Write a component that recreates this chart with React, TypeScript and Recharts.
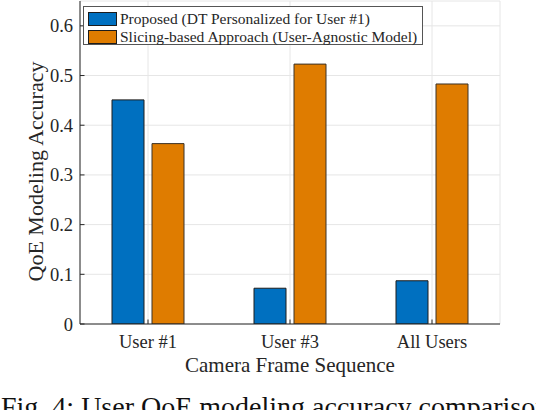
import React from 'react';
import { BarChart, Bar, XAxis, YAxis, CartesianGrid } from 'recharts';

const categories = ['User #1', 'User #3', 'All Users'];
const proposedValues = [0.451, 0.072, 0.087];
const slicingValues = [0.363, 0.523, 0.483];
const yTicks = [0, 0.1, 0.2, 0.3, 0.4, 0.5, 0.6];
const yTickLabels = ['0', '0.1', '0.2', '0.3', '0.4', '0.5', '0.6'];
const seriesNames = [
  'Proposed (DT Personalized for User #1)',
  'Slicing-based Approach (User-Agnostic Model)',
];
const seriesColors = ['#0070C0', '#DF7C00'];
const xAxisTitle = 'Camera Frame Sequence';
const yAxisTitle = 'QoE Modeling Accuracy';
const caption = 'Fig. 4: User QoE modeling accuracy comparison';

const data = categories.map((name, i) => ({
  name,
  proposed: proposedValues[i],
  slicing: slicingValues[i],
}));

const FONT = "'Liberation Serif', 'Times New Roman', serif";
const TEXT = '#262626';
const AXIS = '#262626';
const TICK_LEN = 4.5;

const LeftTick = (props: any) => {
  const { x, y, payload } = props;
  const idx = yTicks.indexOf(payload.value);
  return (
    <g>
      <line x1={x} x2={x + TICK_LEN} y1={y} y2={y} stroke={AXIS} />
      <text x={x - 7} y={y + 6.5} textAnchor="end" fontFamily={FONT} fontSize={18.5} fill={TEXT}>
        {idx >= 0 ? yTickLabels[idx] : String(payload.value)}
      </text>
    </g>
  );
};

const RightTick = (props: any) => {
  const { x, y } = props;
  return <line x1={x} x2={x - TICK_LEN} y1={y} y2={y} stroke={AXIS} />;
};

const BottomTick = (props: any) => {
  const { x, y, payload } = props;
  return (
    <g>
      <line x1={x} x2={x} y1={y} y2={y - TICK_LEN} stroke={AXIS} />
      <text x={x} y={y + 24} textAnchor="middle" fontFamily={FONT} fontSize={18.5} fill={TEXT}>
        {payload.value}
      </text>
    </g>
  );
};

const TopTick = (props: any) => {
  const { x, y } = props;
  return <line x1={x} x2={x} y1={y} y2={y + TICK_LEN} stroke={AXIS} />;
};

const YTitle = (props: any) => {
  const vb = props.viewBox || {};
  const cx = (vb.x || 0) + 35;
  const cy = (vb.y || 0) + (vb.height || 0) / 2 + 9;
  return (
    <text
      x={cx}
      y={cy}
      transform={`rotate(-90, ${cx}, ${cy})`}
      textAnchor="middle"
      dominantBaseline="central"
      fontFamily={FONT}
      fontSize={22}
      fill={TEXT}
    >
      {yAxisTitle}
    </text>
  );
};

const XTitle = (props: any) => {
  const vb = props.viewBox || {};
  const cx = (vb.x || 0) + (vb.width || 0) / 2;
  const by = (vb.y || 0) + 47.5;
  return (
    <text x={cx} y={by} textAnchor="middle" fontFamily={FONT} fontSize={21} fill={TEXT}>
      {xAxisTitle}
    </text>
  );
};

export default function App() {
  return (
    <div
      style={{
        position: 'absolute',
        left: 0,
        top: 0,
        width: 536,
        height: 410,
        overflow: 'hidden',
        background: '#fff',
      }}
    >
      <BarChart
        width={536}
        height={410}
        data={data}
        margin={{ top: 1, right: 36, bottom: 0, left: 0 }}
        barSize={32}
        barGap={8}
      >
        <CartesianGrid stroke="#e6e6e6" strokeWidth={1} />
        <XAxis
          dataKey="name"
          height={86}
          padding={{ left: -3, right: -3 }}
          tickSize={0}
          tickMargin={0}
          tickLine={false}
          axisLine={{ stroke: AXIS }}
          tick={<BottomTick />}
          interval={0}
          label={<XTitle />}
        />
        <XAxis
          dataKey="name"
          xAxisId="top"
          orientation="top"
          height={0}
          padding={{ left: -3, right: -3 }}
          tickSize={0}
          tickMargin={0}
          tickLine={false}
          axisLine={{ stroke: AXIS }}
          tick={<TopTick />}
          interval={0}
        />
        <YAxis
          type="number"
          domain={[0, 0.65]}
          ticks={yTicks}
          width={80}
          tickSize={0}
          tickMargin={0}
          tickLine={false}
          axisLine={{ stroke: AXIS }}
          tick={<LeftTick />}
          interval={0}
          allowDataOverflow
          label={<YTitle />}
        />
        <YAxis
          yAxisId="right"
          orientation="right"
          type="number"
          domain={[0, 0.65]}
          ticks={yTicks}
          width={0}
          tickSize={0}
          tickMargin={0}
          tickLine={false}
          axisLine={{ stroke: AXIS }}
          tick={<RightTick />}
          interval={0}
          allowDataOverflow
        />
        <Bar
          dataKey="proposed"
          name={seriesNames[0]}
          fill={seriesColors[0]}
          stroke="#1c1c1c"
          strokeWidth={1}
          isAnimationActive={false}
        />
        <Bar
          dataKey="slicing"
          name={seriesNames[1]}
          fill={seriesColors[1]}
          stroke="#3a3228"
          strokeWidth={1}
          isAnimationActive={false}
        />
      </BarChart>
      <div
        style={{
          position: 'absolute',
          left: 83,
          top: 6,
          width: 338,
          height: 37,
          border: '1px solid #555',
          background: '#fff',
          fontFamily: FONT,
          fontSize: 15.5,
          color: TEXT,
        }}
      >
        {seriesNames.map((n, i) => (
          <div
            key={n}
            style={{
              position: 'absolute',
              left: 4,
              top: 3 + i * 18.3,
              height: 18,
              display: 'flex',
              alignItems: 'center',
              whiteSpace: 'nowrap',
            }}
          >
            <div
              style={{
                width: 27,
                height: 12,
                background: seriesColors[i],
                border: '1px solid #1c1c1c',
                marginRight: 3,
              }}
            />
            <span style={{ lineHeight: '18px' }}>{n}</span>
          </div>
        ))}
      </div>
      <div
        style={{
          position: 'absolute',
          left: 1,
          top: 390,
          whiteSpace: 'nowrap',
          fontFamily: FONT,
          fontSize: 28,
          lineHeight: '34px',
          color: '#111',
        }}
      >
        {caption}
      </div>
    </div>
  );
}
